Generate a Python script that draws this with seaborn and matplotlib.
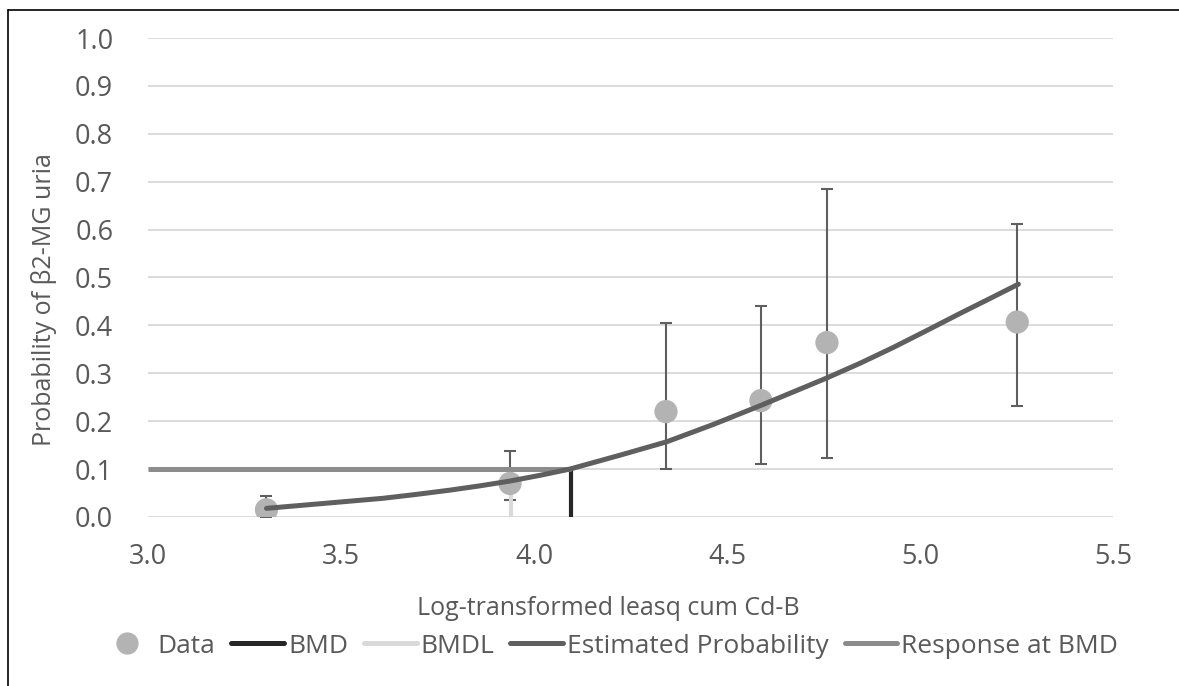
import numpy as np
import pandas as pd
import matplotlib
matplotlib.use("Agg")
import matplotlib.pyplot as plt
import seaborn as sns
from matplotlib.lines import Line2D

dose = [3.307, 3.938, 4.342, 4.588, 4.759, 5.252]
prob = [0.015, 0.070, 0.220, 0.243, 0.364, 0.407]
ci_upper = [0.044, 0.138, 0.406, 0.441, 0.685, 0.611]
ci_lower = [0.000, 0.035, 0.101, 0.111, 0.124, 0.231]

# fitted curve
curve_x = [3.307, 3.437, 3.523, 3.609, 3.694, 3.782, 3.860, 3.938, 4.016, 4.093,
           4.223, 4.344, 4.464, 4.585, 4.758, 4.845, 4.931, 5.017, 5.104, 5.181, 5.255]
curve_y = [0.018, 0.027, 0.033, 0.039, 0.047, 0.056, 0.065, 0.075, 0.087, 0.100,
           0.129, 0.157, 0.193, 0.232, 0.290, 0.321, 0.354, 0.389, 0.425, 0.456, 0.486]

bmd = 4.096
bmdl = 3.94
bmr = 0.1
x_start = 3.0

df = pd.DataFrame({"dose": dose, "prob": prob})
curve_df = pd.DataFrame({"x": curve_x, "y": curve_y})

sns.set_style("white")
plt.rcParams['font.family'] = ['Open Sans', 'DejaVu Sans']
txt = "#595959"

fig = plt.figure(figsize=(11.79, 6.86), dpi=100)
ax = fig.add_axes([0.1255, 0.2464, 0.8185, 0.6982])

# error bars
yerr = [np.array(prob) - np.array(ci_lower), np.array(ci_upper) - np.array(prob)]
ax.errorbar(dose, prob, yerr=yerr, fmt='none', ecolor='#5f5f5f', elinewidth=1.5,
            capsize=4.5, capthick=1.5, zorder=2)

# BMDL / BMD / response lines
ax.plot([bmdl, bmdl], [0, bmr], color='#d9d9d9', lw=3, zorder=3, solid_capstyle='butt')
ax.plot([bmd, bmd], [0, bmr], color='#262626', lw=3, zorder=3, solid_capstyle='butt')
ax.plot([x_start, bmd], [bmr, bmr], color='#8c8c8c', lw=3.6, zorder=3, solid_capstyle='butt')

sns.scatterplot(data=df, x="dose", y="prob", s=280, color='#b3b3b3', edgecolor='none',
                ax=ax, zorder=4, legend=False)
sns.lineplot(data=curve_df, x="x", y="y", color='#5f5f5f', lw=3.6, ax=ax, zorder=5,
             sort=False)

ax.set_xlim(3.0, 5.5)
ax.set_ylim(0, 1.0)
ax.set_xticks(np.arange(3.0, 5.51, 0.5))
ax.set_yticks(np.arange(0, 1.01, 0.1))
ax.set_xticklabels([f"{v:.1f}" for v in np.arange(3.0, 5.51, 0.5)])
ax.set_yticklabels([f"{v:.1f}" for v in np.arange(0, 1.01, 0.1)])
ax.yaxis.grid(True, color='#d9d9d9', lw=1.3)
ax.set_axisbelow(True)
for s in ax.spines.values():
    s.set_visible(False)
ax.tick_params(axis='both', length=0, labelsize=19.5, colors=txt)
ax.tick_params(axis='y', pad=25)
ax.tick_params(axis='x', pad=19)
ax.set_xlabel("Log-transformed leasq cum Cd-B", fontsize=18, color=txt)
ax.xaxis.set_label_coords(0.477, -0.165)
ax.set_ylabel("Probability of β2-MG uria", fontsize=18, color=txt)
ax.yaxis.set_label_coords(-0.094, 0.453)

handles = [
    Line2D([], [], marker='o', ls='none', color='#b3b3b3', markersize=15),
    Line2D([], [], color='#262626', lw=3.6),
    Line2D([], [], color='#d9d9d9', lw=3.6),
    Line2D([], [], color='#5f5f5f', lw=3.6),
    Line2D([], [], color='#8c8c8c', lw=3.6),
]
labels = ["Data", "BMD", "BMDL", "Estimated Probability", "Response at BMD"]
leg = fig.legend(handles, labels, loc='center', bbox_to_anchor=(0.517, 0.058), ncol=5,
                 frameon=False, fontsize=19, handlelength=2.0, handletextpad=0.15,
                 columnspacing=0.6, labelcolor=txt)

# outer border (top and left visible in the crop)
fig.add_artist(Line2D([8 / 1179, 8 / 1179], [0, 1 - 10 / 686], color='black', lw=1.2,
                      transform=fig.transFigure))
fig.add_artist(Line2D([8 / 1179, 1], [1 - 10 / 686, 1 - 10 / 686], color='black', lw=1.2,
                      transform=fig.transFigure))

fig.savefig("out.png", dpi=100)
